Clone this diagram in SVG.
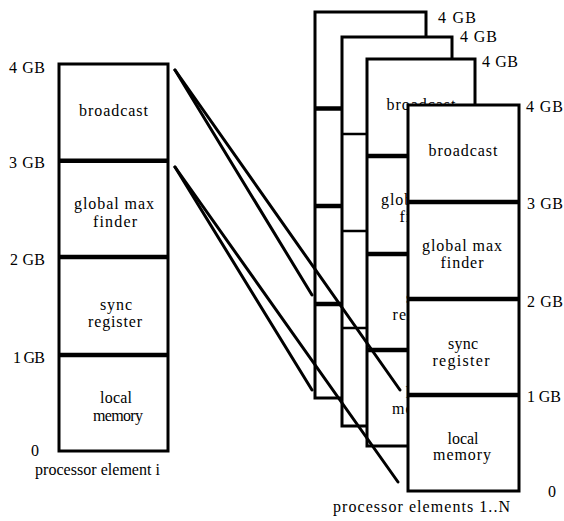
<svg xmlns="http://www.w3.org/2000/svg" width="564" height="521" viewBox="0 0 564 521" font-family="'Liberation Serif', 'Times New Roman', serif">
<style>
text{font-family:"Liberation Serif","Times New Roman",serif;font-size:16px;fill:#000}
.c{text-anchor:middle}
.e{text-anchor:end}
.box{fill:#fff;stroke:#000;stroke-width:3}
.div{stroke:#000;stroke-width:4.5}
.divt{stroke:#000;stroke-width:2.5}
.conn{stroke:#000;stroke-width:3;stroke-linecap:round;fill:none}
</style>
<rect width="564" height="521" fill="#fff"/>

<g id="pe-i">
<rect class="box" x="59" y="64" width="109" height="387"/>
<line class="div" x1="59" y1="160.7" x2="168" y2="160.7"/>
<line class="div" x1="59" y1="257" x2="168" y2="257"/>
<line class="div" x1="59" y1="355" x2="168" y2="355"/>
<text class="c" x="113.5" y="116" textLength="69">broadcast</text>
<text class="c" x="114" y="209" textLength="80">global max</text>
<text class="c" x="115" y="227" textLength="44">finder</text>
<text class="c" x="116" y="310" textLength="32">sync</text>
<text class="c" x="115" y="327" textLength="54">register</text>
<text class="c" x="116" y="403" textLength="32">local</text>
<text class="c" x="118" y="421" textLength="50">memory</text>
<text class="e" x="45" y="73" textLength="36">4 GB</text>
<text class="e" x="45" y="168" textLength="36">3 GB</text>
<text class="e" x="45" y="265" textLength="35">2 GB</text>
<text class="e" x="45" y="363" textLength="32">1 GB</text>
<text class="e" x="39" y="456">0</text>
<text x="35" y="475" textLength="125">processor element i</text>
</g>

<g id="pe-back-1">
<rect class="box" x="315" y="12" width="111" height="386"/>
<line class="div" x1="315" y1="108.5" x2="426" y2="108.5"/>
<line class="div" x1="315" y1="206" x2="426" y2="206"/>
<line class="div" x1="315" y1="304" x2="426" y2="304"/>
<text x="438" y="23" textLength="38">4 GB</text>
</g>

<g id="pe-back-2">
<rect class="box" x="342" y="37" width="110" height="389"/>
<line class="divt" x1="342" y1="134" x2="452" y2="134"/>
<line class="divt" x1="342" y1="231" x2="452" y2="231"/>
<line class="divt" x1="342" y1="328" x2="452" y2="328"/>
<text x="460" y="42" textLength="37">4 GB</text>
</g>

<g id="pe-back-3">
<rect class="box" x="367" y="59" width="108" height="387"/>
<line class="div" x1="367" y1="156" x2="475" y2="156"/>
<line class="div" x1="367" y1="254" x2="475" y2="254"/>
<line class="div" x1="367" y1="350" x2="475" y2="350"/>
<text class="c" x="421" y="110" textLength="69">broadcast</text>
<text class="c" x="421" y="205" textLength="80">global max</text>
<text class="c" x="421" y="222" textLength="43">finder</text>
<text class="c" x="421" y="303" textLength="30">sync</text>
<text class="c" x="421" y="320" textLength="57">register</text>
<text class="c" x="421" y="398" textLength="31">local</text>
<text class="c" x="421" y="414" textLength="58">memory</text>
<text x="482" y="67" textLength="36">4 GB</text>
</g>

<g id="connectors">
<line class="conn" x1="175" y1="70" x2="312" y2="295"/>
<line class="conn" x1="175" y1="70" x2="400" y2="390"/>
<line class="conn" x1="175" y1="167" x2="312" y2="390"/>
<line class="conn" x1="175" y1="167" x2="398" y2="482"/>
</g>

<g id="pe-front">
<rect class="box" x="408" y="105" width="111" height="386"/>
<line class="div" x1="408" y1="202" x2="519" y2="202"/>
<line class="div" x1="408" y1="299" x2="519" y2="299"/>
<line class="div" x1="408" y1="395" x2="519" y2="395"/>
<text class="c" x="463" y="156" textLength="69">broadcast</text>
<text class="c" x="462" y="251" textLength="80">global max</text>
<text class="c" x="462" y="268" textLength="43">finder</text>
<text class="c" x="463" y="349" textLength="30">sync</text>
<text class="c" x="461" y="366" textLength="57">register</text>
<text class="c" x="463" y="444" textLength="31">local</text>
<text class="c" x="462" y="460" textLength="58">memory</text>
<text x="526" y="112" textLength="37">4 GB</text>
<text x="527" y="209" textLength="36">3 GB</text>
<text x="527" y="307" textLength="36">2 GB</text>
<text x="527" y="402" textLength="34">1 GB</text>
<text x="548" y="497">0</text>
<text x="333" y="512" textLength="177">processor elements 1..N</text>
</g>
</svg>
